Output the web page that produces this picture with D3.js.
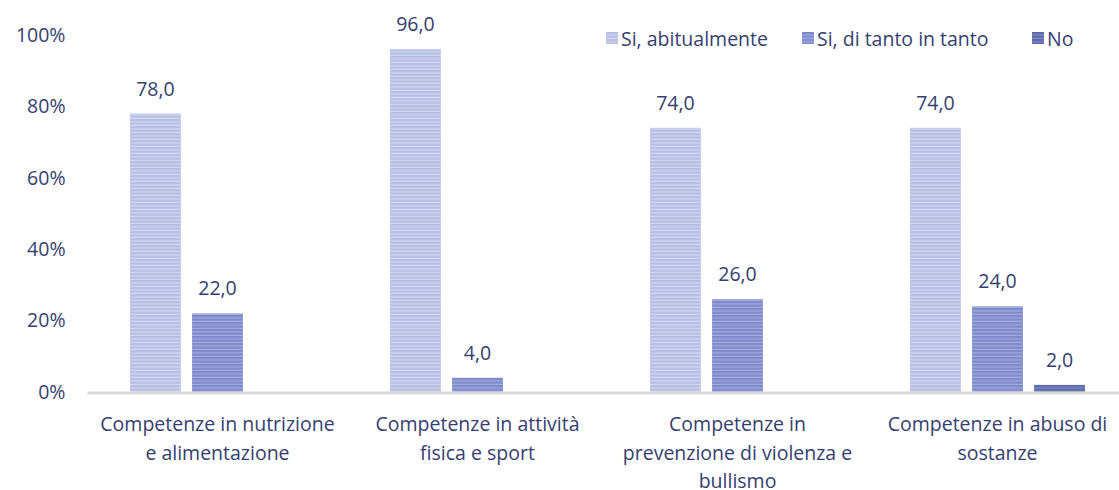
<!DOCTYPE html>
<html>
<head>
<meta charset="utf-8">
<script src="https://cdn.jsdelivr.net/npm/d3@7"></script>
<style>
  body { margin: 0; background: #fff; }
  text { font-family: "Open Sans", sans-serif; fill: #34406f; }
</style>
</head>
<body>
<svg id="chart"></svg>
<script>
// data
var categories = [
  "Competenze in nutrizione\ne alimentazione",
  "Competenze in attività\nfisica e sport",
  "Competenze in\nprevenzione di violenza e\nbullismo",
  "Competenze in abuso di\nsostanze"
];
var seriesNames = ["Si, abitualmente", "Si, di tanto in tanto", "No"];
var abitualmente = [78.0, 96.0, 74.0, 74.0];
var diTantoInTanto = [22.0, 4.0, 26.0, 24.0];
var no = [0, 0, 0, 2.0];
var yTicks = [0, 20, 40, 60, 80, 100];

var seriesValues = [abitualmente, diTantoInTanto, no];
var colors = ["#b7bee3", "#7e8acb", "#5d69a9"];
var stripes = ["#d3d7ef", "#a3addc", "#8690c4"];

var W = 1119, H = 490;
var margin = {top: 35, left: 87.5, bottom: 98};
var plotW = 1040, plotH = H - margin.top - margin.bottom;
var fs = "19.5px";

var svg = d3.select("#chart").attr("width", W).attr("height", H);

// striped patterns
var defs = svg.append("defs");
colors.forEach(function(c, i) {
  var p = defs.append("pattern")
    .attr("id", "pat" + i)
    .attr("patternUnits", "userSpaceOnUse")
    .attr("width", 8).attr("height", 3.5);
  p.append("rect").attr("width", 8).attr("height", 3.5).attr("fill", c);
  p.append("rect").attr("y", 2.3).attr("width", 8).attr("height", 1.2).attr("fill", stripes[i]);
});

var g = svg.append("g").attr("transform", "translate(" + margin.left + "," + margin.top + ")");

var x0 = d3.scaleBand().domain(d3.range(categories.length)).range([0, plotW]).paddingInner(0).paddingOuter(0);
var x1 = d3.scaleBand().domain(d3.range(seriesNames.length)).range([42.5, 217.5]).paddingInner(0.18).paddingOuter(0);
var y = d3.scaleLinear().domain([0, 100]).range([plotH, 0]);

// y axis labels
var yAxis = g.append("g")
  .call(d3.axisLeft(y).tickValues(yTicks).tickSize(0).tickPadding(22).tickFormat(function(d) { return d + "%"; }));
yAxis.select(".domain").remove();
yAxis.selectAll("text").style("font-size", fs).attr("font-family", null).attr("fill", "#34406f");

// bars
var groups = g.selectAll(".grp")
  .data(categories)
  .enter().append("g")
  .attr("class", "grp")
  .attr("transform", function(d, i) { return "translate(" + x0(i) + ",0)"; });

groups.selectAll("rect")
  .data(function(d, i) { return seriesValues.map(function(s, k) { return {k: k, v: s[i]}; }); })
  .enter().append("rect")
  .attr("x", function(d) { return x1(d.k); })
  .attr("width", x1.bandwidth())
  .attr("y", function(d) { return y(d.v); })
  .attr("height", function(d) { return plotH - y(d.v); })
  .attr("fill", function(d) { return "url(#pat" + d.k + ")"; });

groups.selectAll(".lbl")
  .data(function(d, i) { return seriesValues.map(function(s, k) { return {k: k, v: s[i]}; }).filter(function(d) { return d.v > 0; }); })
  .enter().append("text")
  .attr("class", "lbl")
  .attr("x", function(d) { return x1(d.k) + x1.bandwidth() / 2; })
  .attr("y", function(d) { return y(d.v) - 18; })
  .attr("text-anchor", "middle")
  .style("font-size", fs)
  .text(function(d) { return d.v.toFixed(1).replace(".", ","); });

// baseline
g.append("line")
  .attr("x1", 0).attr("x2", W - margin.left)
  .attr("y1", plotH + 1).attr("y2", plotH + 1)
  .attr("stroke", "#d9d9d9").attr("stroke-width", 3);

// category labels
g.selectAll(".cat")
  .data(categories)
  .enter().append("text")
  .attr("class", "cat")
  .attr("text-anchor", "middle")
  .style("font-size", fs)
  .attr("transform", function(d, i) { return "translate(" + (x0(i) + 130) + "," + (plotH + 39) + ")"; })
  .each(function(d) {
    var t = d3.select(this);
    d.split("\n").forEach(function(line, j) {
      t.append("tspan").attr("x", 0).attr("dy", j === 0 ? 0 : 28.5).text(line);
    });
  });

// legend
var legendX = [606, 802, 1032];
var legend = svg.selectAll(".leg")
  .data(seriesNames)
  .enter().append("g")
  .attr("class", "leg")
  .attr("transform", function(d, i) { return "translate(" + legendX[i] + ",32)"; });
legend.append("rect").attr("width", 12).attr("height", 12)
  .attr("fill", function(d, i) { return "url(#pat" + i + ")"; });
legend.append("text").attr("x", 15).attr("y", 13.5).style("font-size", fs).text(function(d) { return d; });
</script>
</body>
</html>
